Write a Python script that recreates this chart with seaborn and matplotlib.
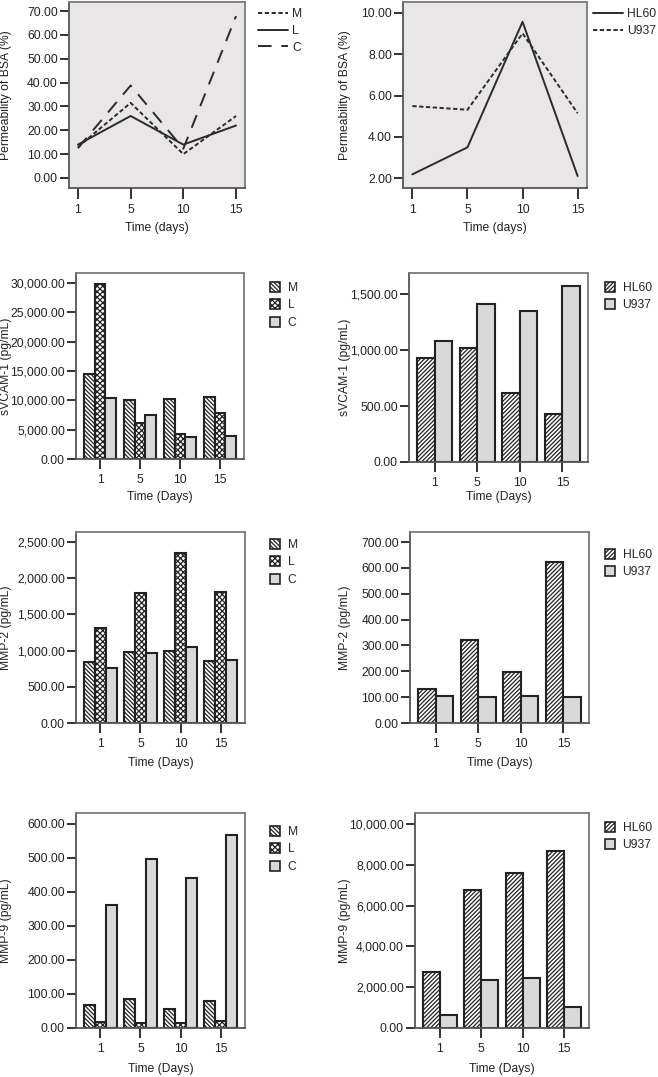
import numpy as np
import pandas as pd
import matplotlib
matplotlib.use("Agg")
import matplotlib.pyplot as plt
import matplotlib.transforms as mtransforms
from matplotlib.patches import Patch
from matplotlib.lines import Line2D
from matplotlib.ticker import FuncFormatter
import seaborn as sns

# ---------------- data ----------------
days = ["1", "5", "10", "15"]
groups3 = ["M", "L", "C"]
groups2 = ["HL60", "U937"]

perm_M = [13.0, 31.5, 10.0, 26.0]
perm_L = [14.0, 26.0, 14.0, 22.0]
perm_C = [12.5, 38.8, 12.3, 67.9]
perm_HL60 = [2.18, 3.49, 9.57, 2.10]
perm_U937 = [5.49, 5.31, 9.01, 5.14]

svcam_M = [14500, 10050, 10280, 10570]
svcam_L = [29800, 6100, 4250, 7840]
svcam_C = [10400, 7550, 3690, 3860]
svcam_HL60 = [932, 1022, 612, 433]
svcam_U937 = [1082, 1413, 1345, 1569]

mmp2_M = [840, 975, 995, 850]
mmp2_L = [1310, 1798, 2350, 1812]
mmp2_C = [755, 972, 1050, 875]
mmp2_HL60 = [133, 321, 198, 621]
mmp2_U937 = [103, 100, 105, 100]

mmp9_M = [67, 84, 55, 79]
mmp9_L = [18, 16, 14, 21]
mmp9_C = [362, 498, 441, 568]
mmp9_HL60 = [2754, 6770, 7590, 8656]
mmp9_U937 = [656, 2344, 2443, 1049]

# ---------------- style ----------------
sns.set_theme(style="ticks")
plt.rcParams["font.family"] = ["Liberation Sans", "DejaVu Sans"]
FS = 8.7
W, H = 658, 1077
fig = plt.figure(figsize=(W / 100, H / 100), dpi=100)

EDGE = "#222222"
FRAME = "#7a7a7a"
GRAY = "#d9d9d9"
LINEBG = "#e8e6e6"


def add_ax(x0, y0, x1, y1):
    return fig.add_axes([x0 / W, 1 - y1 / H, (x1 - x0) / W, (y1 - y0) / H])


def style_ax(ax, ylab, xlab, ylab_px, xlab_px, ticklen):
    for s in ax.spines.values():
        s.set_color(FRAME)
        s.set_linewidth(1.3)
        s.set_visible(True)
    ax.spines["left"].set_color("#555555")
    ax.spines["bottom"].set_color("#555555")
    ax.tick_params(axis="both", labelsize=FS, colors="#222222", width=1.3,
                   direction="out")
    ax.tick_params(axis="y", length=6.5, pad=1.5)
    ax.tick_params(axis="x", length=ticklen, pad=3.5)
    ax.set_ylabel(ylab, fontsize=FS, color="#222222")
    ax.set_xlabel(xlab, fontsize=FS, color="#222222")
    ax.yaxis.set_label_coords(ylab_px / W, 0.5,
                              transform=mtransforms.blended_transform_factory(fig.transFigure, ax.transAxes))
    ax.xaxis.set_label_coords(0.5, 1 - xlab_px / H,
                              transform=mtransforms.blended_transform_factory(ax.transAxes, fig.transFigure))
    ax.xaxis.label.set_va("top")


fmt = FuncFormatter(lambda v, p: "{:,.2f}".format(v))


def line_panel(box, groups, series, dashes, yticks, ylim, leg_anchor, ylab_px, xlab_px):
    ax = add_ax(*box)
    df = pd.DataFrame({
        "day": days * len(groups),
        "value": np.concatenate(series),
        "group": np.repeat(groups, len(days)),
    })
    sns.lineplot(data=df, x="day", y="value", style="group", style_order=groups,
                 dashes=dashes, color="#2b2b2b", linewidth=1.4, legend=False,
                 sort=False, ax=ax)
    ax.set_facecolor(LINEBG)
    ax.set_xlim(-0.17, 3.17)
    ax.set_ylim(*ylim)
    ax.set_yticks(yticks)
    ax.yaxis.set_major_formatter(fmt)
    style_ax(ax, "Permeability of BSA (%)", "Time (days)", ylab_px, xlab_px, 8)
    handles = []
    for g in groups:
        h = Line2D([], [], color="#2b2b2b", linewidth=1.4)
        if dashes[g]:
            h.set_dashes(dashes[g])
        handles.append(h)
    ax.legend(handles, groups, loc="upper left", bbox_to_anchor=leg_anchor,
              bbox_transform=fig.transFigure, frameon=False, fontsize=FS,
              handlelength=2.5, handletextpad=0.35, labelspacing=0.4,
              borderpad=0, borderaxespad=0)
    return ax


def bar_panel(box, groups, series, colors, hatches, yticks, ylim, ylab, leg_anchor,
              ylab_px, xlab_px):
    ax = add_ax(*box)
    df = pd.DataFrame({
        "day": days * len(groups),
        "value": np.concatenate(series),
        "group": np.repeat(groups, len(days)),
    })
    sns.barplot(data=df, x="day", y="value", hue="group", order=days,
                hue_order=groups, palette=dict(zip(groups, colors)),
                saturation=1, width=0.82, edgecolor=EDGE, linewidth=1.5,
                legend=False, errorbar=None, ax=ax)
    for cont, h in zip(ax.containers, hatches):
        for bar in cont:
            bar.set_hatch(h)
    ax.set_facecolor("white")
    ax.set_xlim(-0.6, 3.6)
    ax.set_ylim(*ylim)
    ax.set_yticks(yticks)
    ax.yaxis.set_major_formatter(fmt)
    style_ax(ax, ylab, "Time (Days)", ylab_px, xlab_px, 7.5)
    handles = [Patch(facecolor=c, edgecolor=EDGE, hatch=h, linewidth=1.2)
               for c, h in zip(colors, hatches)]
    ax.legend(handles, groups, loc="upper left", bbox_to_anchor=leg_anchor,
              bbox_transform=fig.transFigure, frameon=False, fontsize=FS,
              handlelength=0.85, handleheight=0.85, handletextpad=0.6,
              labelspacing=0.45, borderpad=0, borderaxespad=0)
    return ax


plt.rcParams["hatch.linewidth"] = 0.9

# Row 1: permeability lines
line_panel((69, 2, 245, 188), groups3, [perm_M, perm_L, perm_C],
           {"M": (2.2, 1.3), "L": "", "C": (7, 5)},
           np.arange(0, 71, 10), (-4.2, 73.8), (258 / W, 1 - 8 / H), 12, 222)
line_panel((403, 2, 587, 188), groups2, [perm_HL60, perm_U937],
           {"HL60": "", "U937": (2.2, 1.3)},
           [2, 4, 6, 8, 10], (1.52, 10.53), (593 / W, 1 - 8 / H), 351, 222)

hat3 = ["\\" * 8, "x" * 6, ""]
col3 = ["white", "white", GRAY]
hat2 = ["/" * 8, ""]
col2 = ["white", GRAY]

# Row 2: sVCAM-1
bar_panel((76, 273, 244, 459), groups3, [svcam_M, svcam_L, svcam_C], col3, hat3,
          np.arange(0, 30001, 5000), (0, 31700), "sVCAM-1 (pg/mL)",
          (270 / W, 1 - 282 / H), 12, 491)
bar_panel((409, 273, 588, 462), groups2, [svcam_HL60, svcam_U937], col2, hat2,
          np.arange(0, 1501, 500), (0, 1688), "sVCAM-1 (pg/mL)",
          (605 / W, 1 - 282 / H), 351, 491)

# Row 3: MMP-2
bar_panel((76, 532, 245, 723), groups3, [mmp2_M, mmp2_L, mmp2_C], col3, hat3,
          np.arange(0, 2501, 500), (0, 2638), "MMP-2 (pg/mL)",
          (270 / W, 1 - 539 / H), 12, 757)
bar_panel((410, 532, 589, 723), groups2, [mmp2_HL60, mmp2_U937], col2, hat2,
          np.arange(0, 701, 100), (0, 739), "MMP-2 (pg/mL)",
          (605 / W, 1 - 549 / H), 351, 757)

# Row 4: MMP-9
bar_panel((76, 813, 245, 1028), groups3, [mmp9_M, mmp9_L, mmp9_C], col3, hat3,
          np.arange(0, 601, 100), (0, 632), "MMP-9 (pg/mL)",
          (270 / W, 1 - 826 / H), 12, 1063)
bar_panel((415, 813, 589, 1028), groups2, [mmp9_HL60, mmp9_U937], col2, hat2,
          np.arange(0, 10001, 2000), (0, 10541), "MMP-9 (pg/mL)",
          (605 / W, 1 - 822 / H), 351, 1063)

fig.savefig("out.png", dpi=100, facecolor="white")
